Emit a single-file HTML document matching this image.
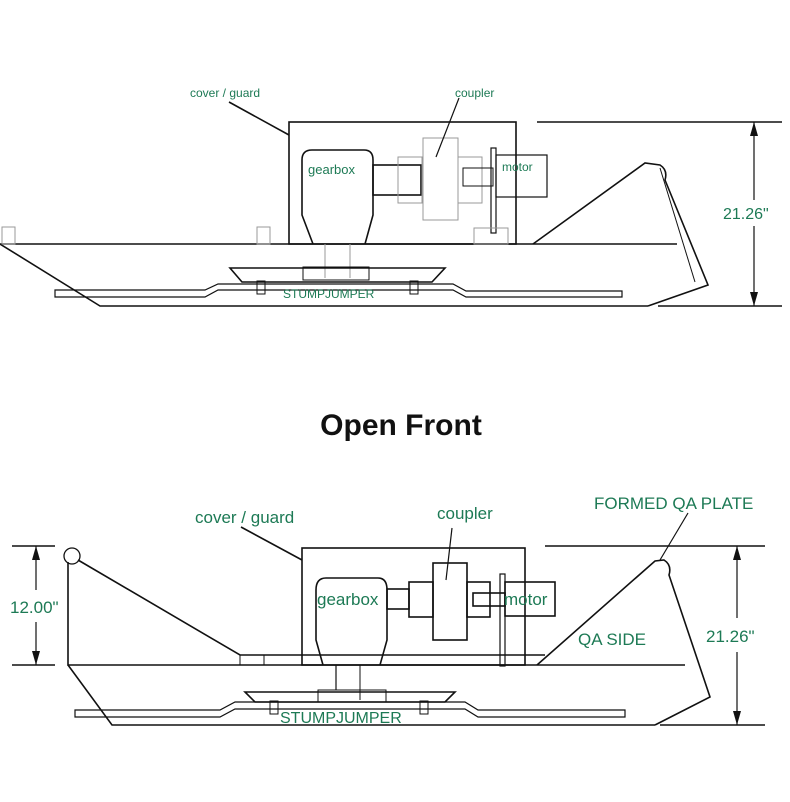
<!DOCTYPE html>
<html><head><meta charset="utf-8"><style>
body{margin:0;background:#fff}
svg{display:block}
text{font-family:"Liberation Sans",Arial,sans-serif;fill:#1d7a55}
</style></head><body>
<svg width="790" height="802" viewBox="0 0 790 802" xmlns="http://www.w3.org/2000/svg">
<g fill="none" stroke="#111" stroke-width="1.6">
<rect x="289" y="122" width="227" height="122"/>
<line x1="229" y1="102" x2="289" y2="135"/>
<path d="M0 244 H677"/>
<path d="M0 244 L100 306 H648"/>
<path d="M533 244 L645 163 L660 165 Q668 170 665 180 L708 285 L648 306"/>
<path d="M660 168 L695 282" stroke-width="1"/>
<path d="M302 160 Q302 150 312 150 H364 Q373 150 373 160 V215 L365 244 M302 160 V215 L313 244"/>
<rect x="373" y="165" width="48" height="30"/>
<rect x="398" y="157" width="24" height="46" stroke="#999" stroke-width="1"/>
<rect x="423" y="138" width="35" height="82" stroke="#999" stroke-width="1"/>
<rect x="458" y="157" width="24" height="46" stroke="#999" stroke-width="1"/>
<rect x="463" y="168" width="30" height="18" stroke-width="1"/>
<rect x="491" y="148" width="5" height="85" stroke-width="1.2"/>
<rect x="496" y="155" width="51" height="42" stroke-width="1.2"/>
<rect x="474" y="228" width="34" height="16" stroke="#999" stroke-width="1"/>
<line x1="459" y1="98" x2="436" y2="157" stroke-width="1.2"/>
<rect x="2" y="227" width="13" height="17" stroke="#999" stroke-width="1"/>
<rect x="257" y="227" width="13" height="17" stroke="#999" stroke-width="1"/>
<line x1="325" y1="244" x2="325" y2="278" stroke="#999" stroke-width="1"/>
<line x1="350" y1="244" x2="350" y2="278" stroke="#999" stroke-width="1"/>
<rect x="303" y="267" width="66" height="13" stroke-width="1"/>
<path d="M230 268 H445 L432 282 H242 Z"/>
<path d="M55 290 H205 L218 284 H453 L466 291 H622 V297 H466 L453 290 H218 L205 297 H55 Z" stroke-width="1.2"/>
<rect x="257" y="281" width="8" height="13" stroke-width="1"/>
<rect x="410" y="281" width="8" height="13" stroke-width="1"/>
<line x1="537" y1="122" x2="782" y2="122"/>
<line x1="658" y1="306" x2="782" y2="306"/>
<line x1="754" y1="122" x2="754" y2="306" stroke-width="1.2"/>
<rect x="302" y="548" width="223" height="117"/>
<line x1="241" y1="527" x2="302" y2="560"/>
<circle cx="72" cy="556" r="8" stroke-width="1.3"/>
<path d="M68 562 V665 H685"/>
<path d="M78 560 L240 655 H545"/>
<rect x="240" y="655" width="24" height="10" stroke-width="1"/>
<path d="M68 665 L112 725 H655"/>
<path d="M537 665 L655 561 L664 560 Q672 565 669 575 L710 697 L655 725"/>
<line x1="688" y1="513" x2="660" y2="560" stroke-width="1.2"/>
<path d="M316 590 Q316 578 326 578 H378 Q387 578 387 590 V640 L380 665 M316 590 V640 L323 665"/>
<rect x="387" y="589" width="22" height="20"/>
<rect x="409" y="582" width="24" height="35"/>
<rect x="433" y="563" width="34" height="77"/>
<rect x="467" y="582" width="23" height="35"/>
<rect x="473" y="593" width="32" height="13"/>
<rect x="500" y="574" width="5" height="92" stroke-width="1.2"/>
<rect x="505" y="582" width="50" height="34"/>
<line x1="452" y1="528" x2="446" y2="580" stroke-width="1.2"/>
<line x1="336" y1="665" x2="336" y2="690" stroke-width="1.2"/>
<line x1="360" y1="665" x2="360" y2="700" stroke-width="1"/>
<rect x="318" y="690" width="68" height="12" stroke-width="1"/>
<path d="M245 692 H455 L445 702 H255 Z"/>
<path d="M75 710 H220 L235 702 H465 L478 710 H625 V717 H478 L465 709 H235 L220 717 H75 Z" stroke-width="1.2"/>
<rect x="270" y="701" width="8" height="13" stroke-width="1"/>
<rect x="420" y="701" width="8" height="13" stroke-width="1"/>
<line x1="12" y1="546" x2="55" y2="546"/>
<line x1="12" y1="665" x2="55" y2="665"/>
<line x1="36" y1="546" x2="36" y2="590" stroke-width="1.2"/>
<line x1="36" y1="622" x2="36" y2="665" stroke-width="1.2"/>
<line x1="545" y1="546" x2="765" y2="546"/>
<line x1="660" y1="725" x2="765" y2="725"/>
<line x1="737" y1="546" x2="737" y2="618" stroke-width="1.2"/>
<line x1="737" y1="652" x2="737" y2="725" stroke-width="1.2"/>
</g>
<g fill="#111">
<path d="M754 122 l-4 14 h8 z"/><path d="M754 306 l-4 -14 h8 z"/>
<path d="M36 546 l-4 14 h8 z"/><path d="M36 665 l-4 -14 h8 z"/>
<path d="M737 546 l-4 14 h8 z"/><path d="M737 725 l-4 -14 h8 z"/>
</g>
<rect x="720" y="200" width="60" height="26" fill="#fff"/>
<text x="190" y="97" font-size="12">cover / guard</text>
<text x="455" y="97" font-size="12">coupler</text>
<text x="308" y="174" font-size="13">gearbox</text>
<text x="502" y="171" font-size="12">motor</text>
<text x="283" y="298" font-size="12">STUMPJUMPER</text>
<text x="723" y="219" font-size="16">21.26"</text>
<text x="401" y="435" font-size="30" font-weight="bold" text-anchor="middle" style="fill:#111">Open Front</text>
<text x="195" y="523" font-size="17">cover / guard</text>
<text x="437" y="519" font-size="17">coupler</text>
<text x="594" y="509" font-size="17">FORMED QA PLATE</text>
<text x="317" y="605" font-size="17">gearbox</text>
<text x="504" y="605" font-size="17">motor</text>
<text x="578" y="645" font-size="17">QA SIDE</text>
<text x="280" y="723" font-size="16">STUMPJUMPER</text>
<text x="10" y="613" font-size="17">12.00"</text>
<text x="706" y="642" font-size="17">21.26"</text>
</svg>
</body></html>
